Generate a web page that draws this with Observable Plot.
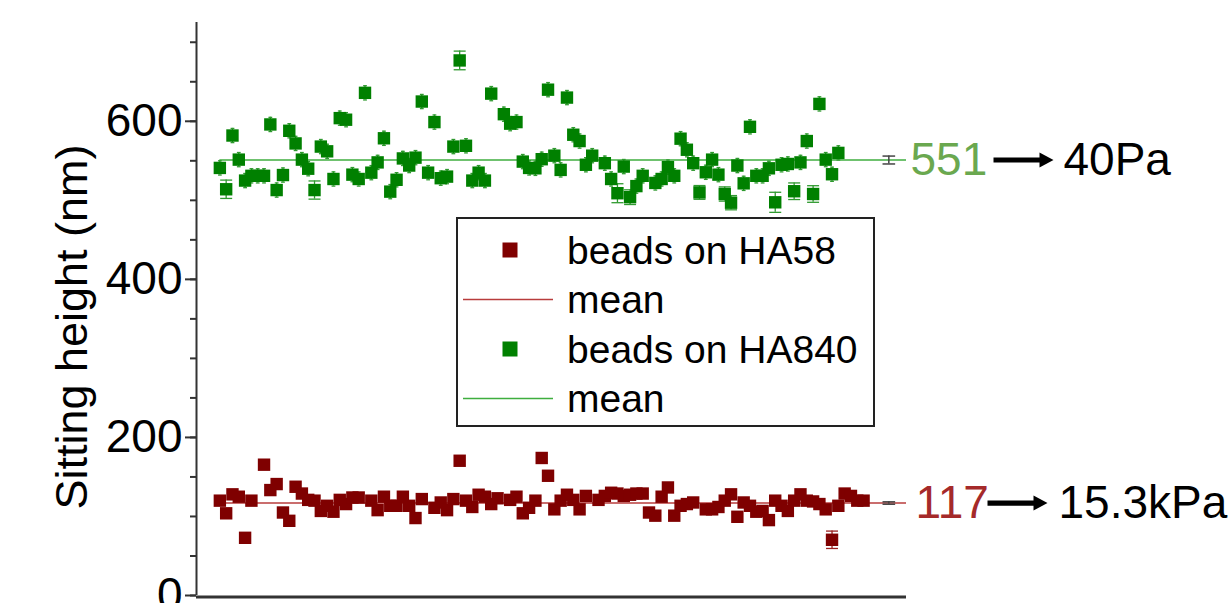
<!DOCTYPE html>
<html><head><meta charset="utf-8">
<script src="https://cdn.jsdelivr.net/npm/d3@7"></script>
<script src="https://cdn.jsdelivr.net/npm/@observablehq/plot@0.6"></script>
<style>
html,body{margin:0;padding:0;background:#fff;}
#wrap{position:relative;width:1228px;height:603px;overflow:hidden;font-family:"Liberation Sans",Arial,sans-serif;}
#wrap svg{position:absolute;left:0;top:0;}
</style></head><body><div id="wrap"></div>
<script>
// ---- data ----
const greenBead = [1,2,3,4,5,6,7,8,9,10,11,12,13,14,15,16,17,18,19,20,21,22,23,24,25,26,27,28,29,30,31,32,33,34,35,36,37,38,39,40,41,42,43,44,46,47,48,49,50,51,52,53,54,55,56,57,58,59,60,62,63,64,65,66,67,68,70,71,72,73,74,75,76,77,78,79,80,81,82,83,84,85,86,87,88,89,90,91,92,93,94,95,96,97,98,99];
const greenHeight = [541,514,582,551.5,525,531,531,531,596,513,532,588,572,551.5,540,513,568,562,527,604,602,532.5,527,636,535,548,578.5,511,526,553,544,554,625,535,599,528,530,568,677,569,525,535,525,635,609,597,599,549,541,540.5,552,640,556.5,538.5,630,583,575,545,556.5,547,527,509,542.7,504,518,531,522,527,542,531,578,564,547,510,535.5,551.5,532.5,508,497,544,521.5,593,531,531,540.5,497.5,545,546,511.5,548,575,508,622,551.5,533,560];
const redBead = [1,2,3,4,5,6,8,9,10,11,12,13,14,15,16,17,18,19,20,21,22,23,25,26,27,28,29,30,31,32,33,35,36,37,38,39,40,41,42,43,44,45,47,48,49,50,51,52,53,54,55,56,57,58,59,61,62,63,64,65,66,67,68,69,70,71,72,73,74,75,76,78,79,80,81,82,83,84,85,86,87,88,89,90,91,92,93,94,95,96,97,98,99,100,101,102,103];
const redHeight = [120,104,128,125,73,120,165.5,133.4,141,105,94.5,137.6,129,121,120,107,113.5,106,121,115.7,124,124,120,108,125,113.5,113.5,125,113.5,98,122,111,117.7,108,122,170.5,120,112,127.5,125,115.7,123,121,125,104,111,120,174,151.5,109,120,127.5,121,109,126,121,126,130,129,126,127.5,129,129,105,101,125,136.7,101,113.5,115.7,117.7,109,109,112,120,128,99.6,117.7,113.5,106,107,95.4,120,113.5,107,120,128,120,119,115.7,109,70.5,113.5,129,126,120,120];
const greenErrBead = [2,16,39,64,66,77,81,82,89,92,95];
const greenErrSize = [11.6,11.5,11.8,12,9.3,8.7,9,9,12.7,10.5,10.5];
const greenSmallErr = 9;
const redErrBead = [98];
const redErrSize = [11];
const meanBead = 107;
const meanValues = [551, 117];
const meanErr = [5, 1.5];
const meanLabels = ["551", "117"];
const modulusLabels = ["40Pa", "15.3kPa"];
const legendLabels = ["beads on HA58", "mean", "beads on HA840", "mean"];
const yMajorTicks = [0, 200, 400, 600];
const yMinorTicks = [0, 50, 100, 150, 200, 250, 300, 350, 400, 450, 500, 550, 600, 650, 700];
const yLabel = "Sitting height (nm)";

// ---- styling ----
const GREEN = "#008000", RED = "#7f0000";
const GREEN_LINE = "#3fae3f", RED_LINE = "#b83c3c";
const GREEN_TXT = "#6aa84f", RED_TXT = "#a52a2a";
const xDomain = [-2.7, 109.8], yDomain = [0, 725];

const gErr = new Map(greenErrBead.map((b, i) => [b, greenErrSize[i]]));
const rErr = new Map(redErrBead.map((b, i) => [b, redErrSize[i]]));
const green = greenBead.map((b, i) => ({bead: b, h: greenHeight[i], err: gErr.get(b) ?? greenSmallErr, cap: gErr.has(b) ? 0.95 : 0.3}));
const red = redBead.map((b, i) => ({bead: b, h: redHeight[i], err: rErr.get(b) ?? 0, cap: 0.95}));
const redWithErr = red.filter(d => d.err > 0);
const meanRows = meanValues.map((v, i) => ({bead: meanBead, v, err: meanErr[i], label: meanLabels[i], mod: modulusLabels[i]}));

const arrowSymbol = {
  draw(ctx) {
    ctx.moveTo(-30, -2.6); ctx.lineTo(16, -2.6); ctx.lineTo(16, -7.5);
    ctx.lineTo(30, 0); ctx.lineTo(16, 7.5); ctx.lineTo(16, 2.6); ctx.lineTo(-30, 2.6); ctx.closePath();
  }
};

function errMarks(rows, color) {
  return [
    Plot.ruleX(rows, {x: "bead", y1: d => d.h - d.err, y2: d => d.h + d.err, stroke: color, strokeWidth: 1.3}),
    Plot.link(rows, {x1: d => d.bead - d.cap, x2: d => d.bead + d.cap, y1: d => d.h + d.err, y2: d => d.h + d.err, stroke: color, strokeWidth: 1.3}),
    Plot.link(rows, {x1: d => d.bead - d.cap, x2: d => d.bead + d.cap, y1: d => d.h - d.err, y2: d => d.h - d.err, stroke: color, strokeWidth: 1.3})
  ];
}

const chart = Plot.plot({
  width: 1228, height: 603,
  marginLeft: 196, marginRight: 322, marginTop: 22, marginBottom: 8,
  style: {fontFamily: '"Liberation Sans", Arial, sans-serif', background: "transparent", overflow: "visible"},
  x: {domain: xDomain, axis: null},
  y: {domain: yDomain, label: null},
  marks: [
    Plot.axisY({ticks: yMinorTicks, tickSize: 6, tickFormat: () => "", stroke: "#333", strokeWidth: 2, label: null}),
    Plot.axisY({ticks: yMajorTicks, tickSize: 11, tickPadding: 3, fontSize: 46, stroke: "#333", strokeWidth: 2, label: null}),
    Plot.ruleX([xDomain[0]], {y1: yDomain[0], y2: yDomain[1], stroke: "#333", strokeWidth: 2}),
    Plot.ruleY([0], {stroke: "#333", strokeWidth: 3, dy: 1.5}),
    Plot.text([yLabel], {frameAnchor: "left", textAnchor: "middle", dx: -124, dy: 18, rotate: -90, fontSize: 45, fill: "#000"}),
    // mean lines
    Plot.ruleY([meanRows[0]], {y: "v", x1: 1, x2: xDomain[1], stroke: GREEN_LINE, strokeWidth: 1.5}),
    Plot.ruleY([meanRows[1]], {y: "v", x1: 1, x2: xDomain[1], stroke: RED_LINE, strokeWidth: 1.5}),
    // error bars
    ...errMarks(green, "#2f9a2f"),
    ...errMarks(redWithErr, "#9a2020"),
    // points
    Plot.dot(green, {x: "bead", y: "h", symbol: "square", r: 7, fill: GREEN}),
    Plot.dot(red, {x: "bead", y: "h", symbol: "square", r: 7, fill: RED}),
    // mean value with error bar
    Plot.ruleX(meanRows, {x: "bead", y1: d => d.v - d.err, y2: d => d.v + d.err, stroke: "#444", strokeWidth: 1.5}),
    Plot.link(meanRows, {x1: d => d.bead - 1, x2: d => d.bead + 1, y1: d => d.v + d.err, y2: d => d.v + d.err, stroke: "#444", strokeWidth: 1.5}),
    Plot.link(meanRows, {x1: d => d.bead - 1, x2: d => d.bead + 1, y1: d => d.v - d.err, y2: d => d.v - d.err, stroke: "#444", strokeWidth: 1.5}),
    // annotations
    Plot.text([meanRows[0]], {y: "v", text: "label", frameAnchor: "right", dx: 4, textAnchor: "start", fill: GREEN_TXT, fontSize: 46}),
    Plot.text([meanRows[1]], {y: "v", text: "label", frameAnchor: "right", dx: 9, textAnchor: "start", fill: RED_TXT, fontSize: 46}),
    Plot.dot([meanRows[0]], {y: "v", frameAnchor: "right", dx: 117, symbol: arrowSymbol, r: 10, fill: "#000", stroke: null}),
    Plot.dot([meanRows[1]], {y: "v", frameAnchor: "right", dx: 111, symbol: arrowSymbol, r: 10, fill: "#000", stroke: null}),
    Plot.text([meanRows[0]], {y: "v", text: "mod", frameAnchor: "right", dx: 157, textAnchor: "start", fill: "#000", fontSize: 46}),
    Plot.text([meanRows[1]], {y: "v", text: "mod", frameAnchor: "right", dx: 152, textAnchor: "start", fill: "#000", fontSize: 46})
  ]
});
const wrap = document.getElementById("wrap");
wrap.appendChild(chart);

// ---- legend box ----
const legendItems = [
  {kind: "square", color: RED, label: legendLabels[0]},
  {kind: "line", color: RED_LINE, label: legendLabels[1]},
  {kind: "square", color: GREEN, label: legendLabels[2]},
  {kind: "line", color: GREEN_LINE, label: legendLabels[3]}
];
const lg = d3.create("svg").attr("width", 1228).attr("height", 603).style("pointer-events", "none");
lg.append("rect").attr("x", 457).attr("y", 218).attr("width", 417).attr("height", 208)
  .attr("fill", "#fff").attr("stroke", "#222").attr("stroke-width", 2);
legendItems.forEach((it, i) => {
  const cy = 250 + i * 49.5;
  if (it.kind === "square") {
    lg.append("rect").attr("x", 502.5).attr("y", cy - 7.5).attr("width", 15).attr("height", 15).attr("fill", it.color);
  } else {
    lg.append("line").attr("x1", 463).attr("x2", 553).attr("y1", cy).attr("y2", cy).attr("stroke", it.color).attr("stroke-width", 1.5);
  }
  lg.append("text").attr("x", 567).attr("y", cy).attr("dy", "0.35em")
    .attr("font-family", '"Liberation Sans", Arial, sans-serif').attr("font-size", 39).attr("fill", "#000").text(it.label);
});
wrap.appendChild(lg.node());
</script>
</body></html>
